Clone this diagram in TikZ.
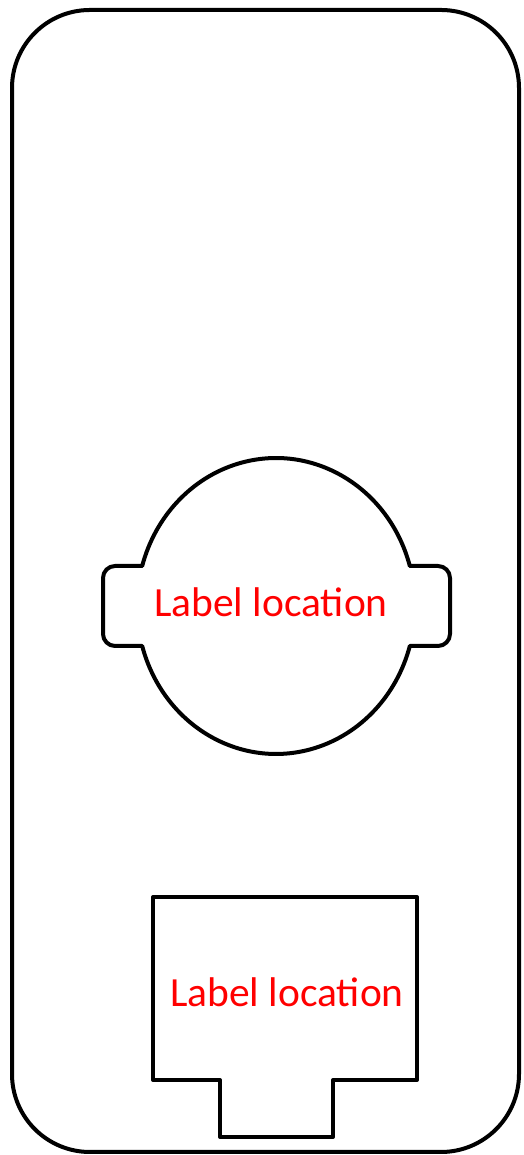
\documentclass[tikz,border=0pt]{standalone}
\usepackage{fontspec}
\setmainfont{Carlito}
\begin{document}
\begin{tikzpicture}[x=1pt,y=1pt,
  outline/.style={draw=black,line width=4pt,line join=round},
  lbl/.style={text=red,font=\fontsize{41.5}{50}\selectfont,anchor=base,inner sep=0pt}]
\useasboundingbox (0,0) rectangle (523,1155);
% outer rounded frame
\draw[outline,rounded corners=78pt] (12,3) rectangle (519,1145);
% ellipse with side tabs
\draw[outline] (409.8,589) arc[start angle=15.7,end angle=164.3,x radius=139,y radius=148]
  -- (115,589) arc[start angle=90,end angle=180,radius=12]
  -- (103,521) arc[start angle=180,end angle=270,radius=12]
  -- (142.2,509) arc[start angle=195.7,end angle=344.3,x radius=139,y radius=148]
  -- (438,509) arc[start angle=-90,end angle=0,radius=12]
  -- (450,577) arc[start angle=0,end angle=90,radius=12]
  -- cycle;
\node[lbl] (toplabel) at (271,538) {Label location};
% bottom notched box
\draw[outline] (153,258) -- (417,258) -- (417,75) -- (333,75) -- (333,18)
  -- (220,18) -- (220,75) -- (153,75) -- cycle;
\node[lbl] (bottomlabel) at (287,148) {Label location};
\end{tikzpicture}
\end{document}
